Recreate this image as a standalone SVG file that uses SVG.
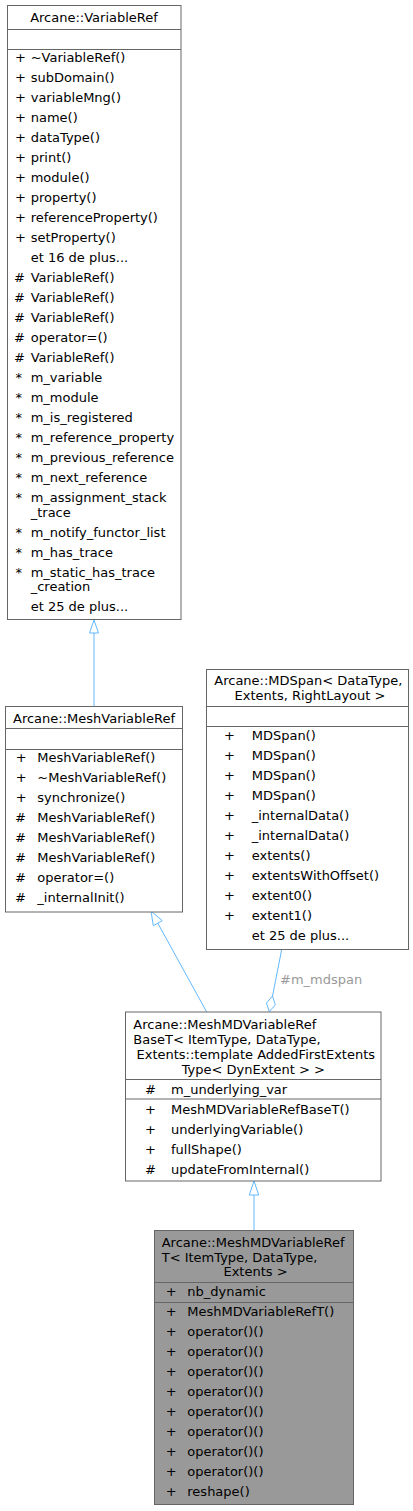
<svg xmlns="http://www.w3.org/2000/svg" width="413" height="1511" viewBox="0 0 413 1511">
<style>
text{font-family:"DejaVu Sans","Liberation Sans",sans-serif;font-size:13px;fill:#000}
.box{fill:#fff;stroke:#666;stroke-width:1}
.cur{fill:#999;stroke:#666;stroke-width:1}
.sep{stroke:#666;stroke-width:1}
.mid{text-anchor:middle}
.edge{fill:none;stroke:#63b8ff;stroke-width:1}
.head{fill:#fff;stroke:#63b8ff;stroke-width:1}
.lbl{fill:#9a9a9a}
</style>
<rect width="413" height="1511" fill="#fff"/>
<g id="connectors">
<line class="edge" x1="94" y1="706.5" x2="94" y2="633"/>
<polygon class="head" points="94,620 89.5,633 98.5,633"/>
<line class="edge" x1="206.7" y1="1012" x2="157.8" y2="923.2"/>
<polygon class="head" points="151,911 153.3,925.7 162.3,920.7"/>
<line class="edge" x1="281.7" y1="949.5" x2="272.5" y2="996"/>
<polygon class="head" points="269.3,1011.7 266.5,1003 272.5,996 275.3,1004.8"/>
<text class="lbl" x="280" y="984">#m_mdspan</text>
<line class="edge" x1="254" y1="1230.5" x2="254" y2="1195"/>
<polygon class="head" points="254,1181 249.3,1195 258.7,1195"/>
</g>
<g id="node-VariableRef">
<rect class="box" x="7.5" y="5.5" width="173.5" height="614"/>
<line class="sep" x1="7.5" y1="29.5" x2="181" y2="29.5"/>
<line class="sep" x1="7.5" y1="49.5" x2="181" y2="49.5"/>
<text class="mid" x="94" y="22">Arcane::VariableRef</text>
<text x="15" y="62">+</text><text x="30.7" y="62">~VariableRef()</text>
<text x="15" y="82">+</text><text x="30.7" y="82">subDomain()</text>
<text x="15" y="102">+</text><text x="30.7" y="102">variableMng()</text>
<text x="15" y="122">+</text><text x="30.7" y="122">name()</text>
<text x="15" y="142">+</text><text x="30.7" y="142">dataType()</text>
<text x="15" y="162">+</text><text x="30.7" y="162">print()</text>
<text x="15" y="182">+</text><text x="30.7" y="182">module()</text>
<text x="15" y="202">+</text><text x="30.7" y="202">property()</text>
<text x="15" y="222">+</text><text x="30.7" y="222">referenceProperty()</text>
<text x="15" y="242">+</text><text x="30.7" y="242">setProperty()</text>
<text x="30.7" y="262">et 16 de plus...</text>
<text x="14" y="282">#</text><text x="30.7" y="282">VariableRef()</text>
<text x="14" y="302">#</text><text x="30.7" y="302">VariableRef()</text>
<text x="14" y="322">#</text><text x="30.7" y="322">VariableRef()</text>
<text x="14" y="342">#</text><text x="30.7" y="342">operator=()</text>
<text x="14" y="362">#</text><text x="30.7" y="362">VariableRef()</text>
<text x="15.5" y="382">*</text><text x="30.7" y="382">m_variable</text>
<text x="15.5" y="402">*</text><text x="30.7" y="402">m_module</text>
<text x="15.5" y="422">*</text><text x="30.7" y="422">m_is_registered</text>
<text x="15.5" y="442">*</text><text x="30.7" y="442">m_reference_property</text>
<text x="15.5" y="462">*</text><text x="30.7" y="462">m_previous_reference</text>
<text x="15.5" y="482">*</text><text x="30.7" y="482">m_next_reference</text>
<text x="15.5" y="502">*</text><text x="30.7" y="502">m_assignment_stack</text>
<text x="30.7" y="517">_trace</text>
<text x="15.5" y="537">*</text><text x="30.7" y="537">m_notify_functor_list</text>
<text x="15.5" y="557">*</text><text x="30.7" y="557">m_has_trace</text>
<text x="15.5" y="577">*</text><text x="30.7" y="577">m_static_has_trace</text>
<text x="30.7" y="591">_creation</text>
<text x="30.7" y="610.5">et 25 de plus...</text>
</g>
<g id="node-MeshVariableRef">
<rect class="box" x="5.5" y="706.5" width="177" height="205.5"/>
<line class="sep" x1="5.5" y1="728.5" x2="182.5" y2="728.5"/>
<line class="sep" x1="5.5" y1="749.5" x2="182.5" y2="749.5"/>
<text class="mid" x="94" y="723">Arcane::MeshVariableRef</text>
<text x="15.7" y="762">+</text><text x="37.3" y="762">MeshVariableRef()</text>
<text x="15.7" y="782">+</text><text x="37.3" y="782">~MeshVariableRef()</text>
<text x="15.7" y="802">+</text><text x="37.3" y="802">synchronize()</text>
<text x="15" y="822">#</text><text x="37.3" y="822">MeshVariableRef()</text>
<text x="15" y="842">#</text><text x="37.3" y="842">MeshVariableRef()</text>
<text x="15" y="862">#</text><text x="37.3" y="862">MeshVariableRef()</text>
<text x="15" y="882">#</text><text x="37.3" y="882">operator=()</text>
<text x="15" y="902">#</text><text x="37.3" y="902">_internalInit()</text>
</g>
<g id="node-MDSpan">
<rect class="box" x="206.5" y="669.5" width="202" height="280"/>
<line class="sep" x1="206.5" y1="706.5" x2="408.5" y2="706.5"/>
<line class="sep" x1="206.5" y1="726.5" x2="408.5" y2="726.5"/>
<text x="214.3" y="685">Arcane::MDSpan&lt; DataType,</text>
<text class="mid" x="310" y="700">Extents, RightLayout &gt;</text>
<text x="224" y="740">+</text><text x="251.7" y="740">MDSpan()</text>
<text x="224" y="760">+</text><text x="251.7" y="760">MDSpan()</text>
<text x="224" y="780">+</text><text x="251.7" y="780">MDSpan()</text>
<text x="224" y="800">+</text><text x="251.7" y="800">MDSpan()</text>
<text x="224" y="820">+</text><text x="251.7" y="820">_internalData()</text>
<text x="224" y="840">+</text><text x="251.7" y="840">_internalData()</text>
<text x="224" y="860">+</text><text x="251.7" y="860">extents()</text>
<text x="224" y="880">+</text><text x="251.7" y="880">extentsWithOffset()</text>
<text x="224" y="900">+</text><text x="251.7" y="900">extent0()</text>
<text x="224" y="920">+</text><text x="251.7" y="920">extent1()</text>
<text x="251.7" y="940">et 25 de plus...</text>
</g>
<g id="node-MeshMDVariableRefBaseT">
<rect class="box" x="125.5" y="1012" width="255.5" height="169"/>
<line class="sep" x1="125.5" y1="1079.5" x2="381" y2="1079.5"/>
<line class="sep" x1="125.5" y1="1099" x2="381" y2="1099"/>
<text x="133.3" y="1028.5">Arcane::MeshMDVariableRef</text>
<text x="133.3" y="1043.5">BaseT&lt; ItemType, DataType,</text>
<text class="mid" x="255.8" y="1058.5">Extents::template AddedFirstExtents</text>
<text class="mid" x="253.3" y="1073.5">Type&lt; DynExtent &gt; &gt;</text>
<text x="145" y="1093.5">#</text><text x="171" y="1093.5">m_underlying_var</text>
<text x="145" y="1113.5">+</text><text x="171" y="1113.5">MeshMDVariableRefBaseT()</text>
<text x="145" y="1133.5">+</text><text x="171" y="1133.5">underlyingVariable()</text>
<text x="145" y="1153.5">+</text><text x="171" y="1153.5">fullShape()</text>
<text x="145" y="1173.5">#</text><text x="171" y="1173.5">updateFromInternal()</text>
</g>
<g id="node-MeshMDVariableRefT">
<rect class="cur" x="154.5" y="1230.5" width="199" height="274"/>
<line class="sep" x1="154.5" y1="1282.5" x2="353.5" y2="1282.5"/>
<line class="sep" x1="154.5" y1="1302.5" x2="353.5" y2="1302.5"/>
<text x="161.7" y="1247">Arcane::MeshMDVariableRef</text>
<text x="161.7" y="1261.5">T&lt; ItemType, DataType,</text>
<text class="mid" x="255.5" y="1276">Extents &gt;</text>
<text x="165.7" y="1295.5">+</text><text x="187.3" y="1295.5">nb_dynamic</text>
<text x="165.7" y="1316">+</text><text x="187.3" y="1316">MeshMDVariableRefT()</text>
<text x="165.7" y="1336">+</text><text x="187.3" y="1336">operator()()</text>
<text x="165.7" y="1356">+</text><text x="187.3" y="1356">operator()()</text>
<text x="165.7" y="1376">+</text><text x="187.3" y="1376">operator()()</text>
<text x="165.7" y="1396">+</text><text x="187.3" y="1396">operator()()</text>
<text x="165.7" y="1416">+</text><text x="187.3" y="1416">operator()()</text>
<text x="165.7" y="1436">+</text><text x="187.3" y="1436">operator()()</text>
<text x="165.7" y="1456">+</text><text x="187.3" y="1456">operator()()</text>
<text x="165.7" y="1476">+</text><text x="187.3" y="1476">operator()()</text>
<text x="165.7" y="1496">+</text><text x="187.3" y="1496">reshape()</text>
</g>
</svg>
